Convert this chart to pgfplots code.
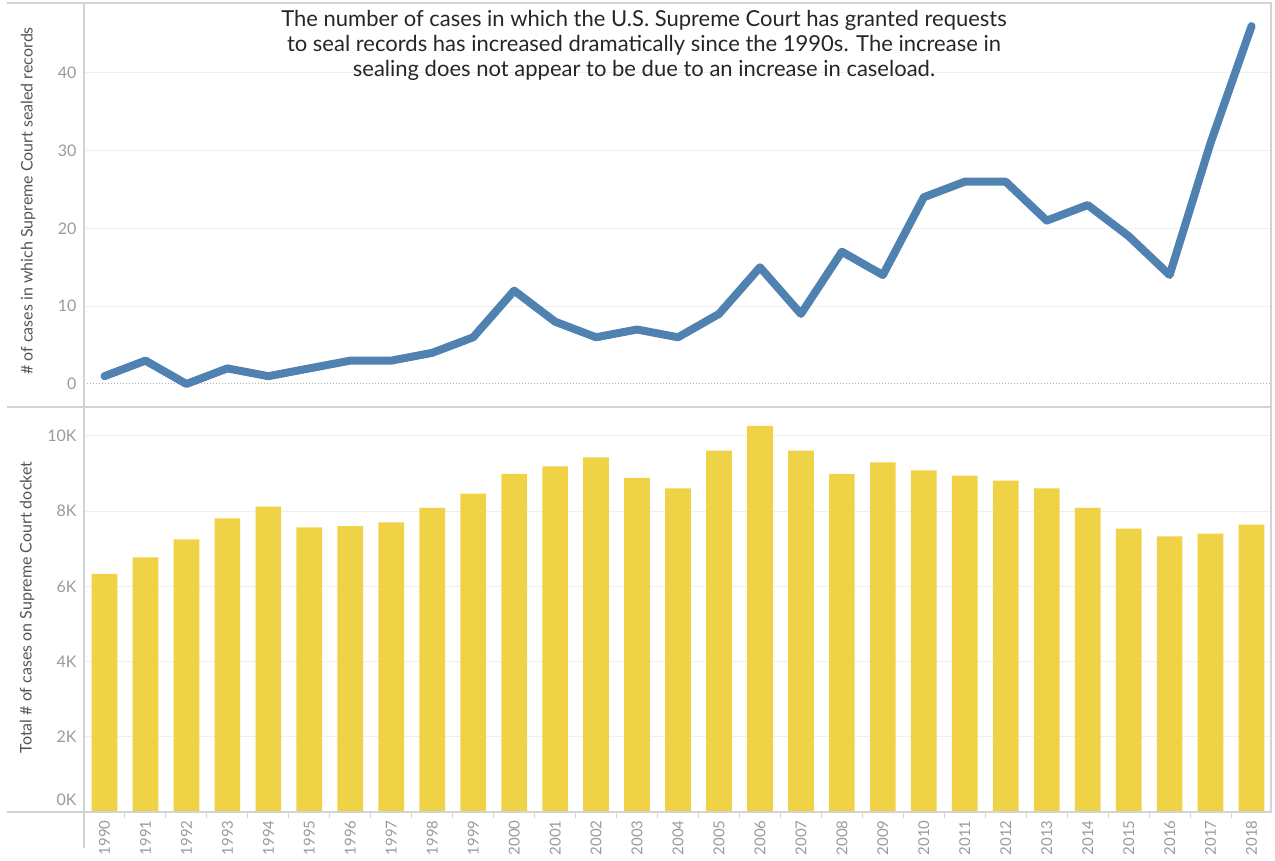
\documentclass[border=0pt]{standalone}
\usepackage{pgfplots}
\pgfplotsset{compat=1.18}
\usepackage{fontspec}
\setmainfont{Lato}
\definecolor{lineblue}{HTML}{4F82B1}
\definecolor{baryel}{HTML}{EFD246}
\definecolor{tickgray}{HTML}{9A9A9A}
\definecolor{labgray}{HTML}{555555}
\definecolor{gridc}{HTML}{EFEFEF}
\definecolor{borderc}{HTML}{D3D3D3}
\begin{document}
\begin{tikzpicture}[x=1pt,y=1pt]
\path[use as bounding box] (0,0) rectangle (1275,861);
\pgfplotsset{common/.style={scale only axis, width=1186pt, xmin=-0.5, xmax=28.45,
  axis line style={draw=none}, major tick length=0pt, ymajorgrids,
  grid style={gridc, line width=1pt}, scaled y ticks=false,
  /pgf/number format/assume math mode=true,
  yticklabel style={font=\fontsize{16}{16}\selectfont, text=tickgray, xshift=-4pt},
  clip=false}}
\begin{axis}[common, at={(84pt,454pt)}, anchor=south west, height=404pt,
  ymin=-2.96, ymax=48.97, ytick={10,20,30,40}, extra y ticks={0},
  extra y tick style={grid=none}, xtick=\empty]
\draw[gray!60, dotted, line width=1pt] (axis cs:-0.5,0) -- (axis cs:28.45,0);
\addplot[lineblue, line width=8pt, line join=round, line cap=round] coordinates {
(0,1) (1,3) (2,0) (3,2) (4,1) (5,2) (6,3) (7,3) (8,4) (9,6)
(10,12) (11,8) (12,6) (13,7) (14,6) (15,9) (16,15) (17,9) (18,17) (19,14)
(20,24) (21,26) (22,26) (23,21) (24,23) (25,19) (26,14) (27,31) (28,46)};
\end{axis}
\begin{axis}[common, at={(84pt,49pt)}, anchor=south west, height=405pt,
  ymin=0, ymax=10771, ytick={2000,4000,6000,8000,10000},
  yticklabels={2K,4K,6K,8K,10K},
  extra y ticks={0}, extra y tick labels={0K},
  extra y tick style={grid=none, yticklabel style={yshift=12pt}},
  xtick={0,...,28}, xtick pos=bottom,
  xticklabels={1990,1991,1992,1993,1994,1995,1996,1997,1998,1999,2000,2001,2002,2003,2004,2005,2006,2007,2008,2009,2010,2011,2012,2013,2014,2015,2016,2017,2018},
  xticklabel style={rotate=90, anchor=east, font=\fontsize{15}{15}\selectfont, text=tickgray, xshift=-5pt},
  minor xtick={-0.5,0.5,...,28.5}, minor tick length=6pt, tick align=outside,
  minor tick style={borderc, line width=1pt}]
\addplot[ybar, bar width=25.7pt, bar shift=0pt, fill=baryel, draw=none] coordinates {
(0,6330) (1,6774) (2,7253) (3,7811) (4,8120) (5,7572) (6,7606) (7,7705) (8,8085) (9,8465)
(10,8989) (11,9194) (12,9433) (13,8883) (14,8609) (15,9609) (16,10266) (17,9609) (18,8989) (19,9300)
(20,9088) (21,8944) (22,8811) (23,8609) (24,8085) (25,7535) (26,7332) (27,7402) (28,7641)};
\end{axis}
\draw[borderc, line width=1.5pt] (7,858) -- (1272,858);
\draw[borderc, line width=1.5pt] (7,454) -- (1272,454);
\draw[borderc, line width=1.5pt] (7,49) -- (1272,49);
\draw[borderc, line width=1.5pt] (84,858) -- (84,13);
\draw[borderc, line width=1.5pt] (1271,858) -- (1271,49);
\node[align=center, font=\fontsize{22}{25}\selectfont, text=black!85] at (644,816)
 {The number of cases in which the U.S. Supreme Court has granted requests\\
  to seal records has increased dramatically since the 1990s. The increase in\\
  sealing does not appear to be due to an increase in caseload.};
\node[rotate=90, font=\fontsize{16}{16}\selectfont, text=labgray] at (28,660) {\# of cases in which Supreme Court sealed records};
\node[rotate=90, font=\fontsize{16}{16}\selectfont, text=labgray] at (27,253.5) {Total \# of cases on Supreme Court docket};
\end{tikzpicture}
\end{document}
